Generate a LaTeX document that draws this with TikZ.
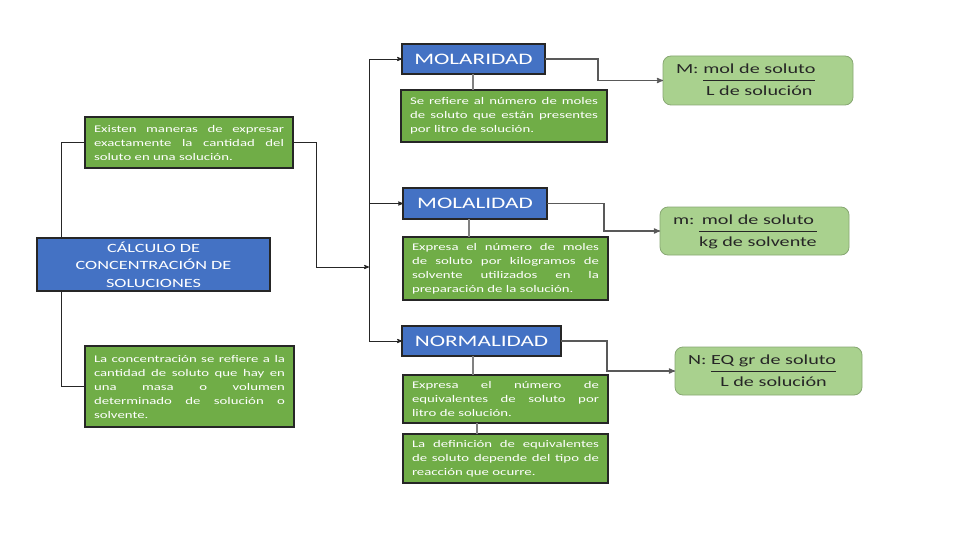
\documentclass[tikz,border=0pt]{standalone}
\usepackage{fontspec}
\setmainfont{Carlito}
\newfontfamily\widefont[FakeStretch=1.45]{Carlito}
\usepackage{xcolor}
\usetikzlibrary{arrows}
\definecolor{boxblue}{HTML}{4472C4}
\definecolor{boxgreen}{HTML}{70AD47}
\definecolor{lightgreen}{HTML}{A9D18E}
\definecolor{linegray}{HTML}{595959}
\setlength{\arrayrulewidth}{0.8pt}
\tolerance=10000
\hyphenpenalty=10000
\tikzset{
  title node/.style={rectangle,draw=black!85,line width=1.5pt,fill=boxblue,text=white,
    font=\widefont\fontsize{16}{19}\selectfont,inner sep=0pt,outer sep=0pt},
  text node/.style={rectangle,draw=black!85,line width=2pt,fill=boxgreen,text=white,
    font=\widefont\fontsize{10.2}{14}\selectfont,align=justify,inner xsep=9pt,inner ysep=0pt,outer sep=0pt},
  formula node/.style={rectangle,rounded corners=8pt,draw=lightgreen!80!black,line width=0.8pt,
    fill=lightgreen,text=black!85,font=\widefont\fontsize{13.9}{22}\selectfont,
    align=left,inner xsep=13pt,inner ysep=0pt,outer sep=0pt},
  stub/.style={draw=black!50,line width=2pt},
  link/.style={draw=black!85,line width=0.8pt},
  side link/.style={draw=linegray,line width=1.2pt}
}
\begin{document}
\begin{tikzpicture}[x=1pt,y=-1pt,>=stealth']
  \fill[white] (0,0) rectangle (960,540);
  \useasboundingbox (0,0) rectangle (960,540);
  % left side
  \node [text node,text width=190pt,minimum height=51pt] (exist) at (189,142.5)
    {Existen maneras de expresar\linebreak exactamente la cantidad del\linebreak soluto en una solución.};
  \node [title node,font=\widefont\fontsize{12.6}{17.5}\selectfont,align=center,
    minimum width=233pt,minimum height=53pt] (calc) at (153.5,264.5)
    {CÁLCULO DE\\CONCENTRACIÓN DE\\SOLUCIONES};
  \node [text node,text width=191pt,minimum height=81pt] (conc) at (189.5,386.5)
    {La concentración se refiere a la\linebreak cantidad de soluto que hay en\linebreak
     una masa o volumen\linebreak determinado de solución o\linebreak solvente.};
  % middle column
  \node [title node,minimum width=143pt,minimum height=30pt] (molar) at (473.5,59) {MOLARIDAD};
  \node [text node,text width=188pt,minimum height=52pt] (molardef) at (504,116)
    {Se refiere al número de moles\linebreak de soluto que están presentes\linebreak por litro de solución.};
  \node [title node,minimum width=144pt,minimum height=31pt] (molal) at (475,203.5) {MOLALIDAD};
  \node [text node,text width=187pt,minimum height=63pt] (molaldef) at (505.5,268.5)
    {Expresa el número de moles\linebreak de soluto por kilogramos de\linebreak
     solvente utilizados en la\linebreak preparación de la solución.};
  \node [title node,minimum width=159pt,minimum height=30pt] (normal) at (481.5,341) {NORMALIDAD};
  \node [text node,text width=187pt,minimum height=48pt] (normaldef) at (505.5,399)
    {Expresa el número de\linebreak equivalentes de soluto por\linebreak litro de solución.};
  \node [text node,text width=187pt,minimum height=49pt] (normalnote) at (505.5,458.5)
    {La definición de equivalentes\linebreak de soluto depende del tipo de\linebreak reacción que ocurre.};
  % formulas
  \node [formula node,text width=164pt,minimum height=49pt] (fmolar) at (758,80.5)
    {\begin{tabular}{@{}l@{\ }c@{}}M: & mol de soluto\\ \cline{2-2} & L de solución\end{tabular}};
  \node [formula node,text width=163pt,minimum height=48pt] (fmolal) at (754.5,231)
    {\begin{tabular}{@{}l@{\ }c@{}}m: & mol de soluto\\ \cline{2-2} & kg de solvente\end{tabular}};
  \node [formula node,text width=161pt,minimum height=48pt] (fnormal) at (768.5,371)
    {\begin{tabular}{@{}l@{\ }c@{}}N: & EQ gr de soluto\\ \cline{2-2} & L de solución\end{tabular}};
  % bends
  \coordinate (lbus) at (61,0);
  \coordinate (rjoin) at (316,267);
  \coordinate (rbus) at (369,267);
  \coordinate (mbend) at (598,80.5);
  \coordinate (lbend) at (604,231);
  \coordinate (nbend) at (607,371);
  % connectors
  \draw [link] (exist.west) -| (calc.north -| lbus);
  \draw [link] (calc.south -| lbus) |- (conc.west);
  \draw [link,->] (exist.east) -| (rjoin) -- (rbus);
  \draw [link,->] (rbus) |- (molar.west);
  \draw [link,->] (rbus) |- (molal.west);
  \draw [link,->] (rbus) |- (normal.west);
  \draw [stub] ([xshift=-1pt]molar.south) -- ([xshift=-31.5pt]molardef.north);
  \draw [stub] ([xshift=-6pt]molal.south) -- ([xshift=-36.5pt]molaldef.north);
  \draw [stub] ([xshift=-8.5pt]normal.south) -- ([xshift=-32.5pt]normaldef.north);
  \draw [stub] ([xshift=-28.5pt]normaldef.south) -- ([xshift=-28.5pt]normalnote.north);
  \draw [side link,->] (molar.east) -| (mbend) -- (fmolar.west);
  \draw [side link,->] (molal.east) -| (lbend) -- (fmolal.west);
  \draw [side link,->] (normal.east) -| (nbend) -- (fnormal.west);
\end{tikzpicture}
\end{document}
